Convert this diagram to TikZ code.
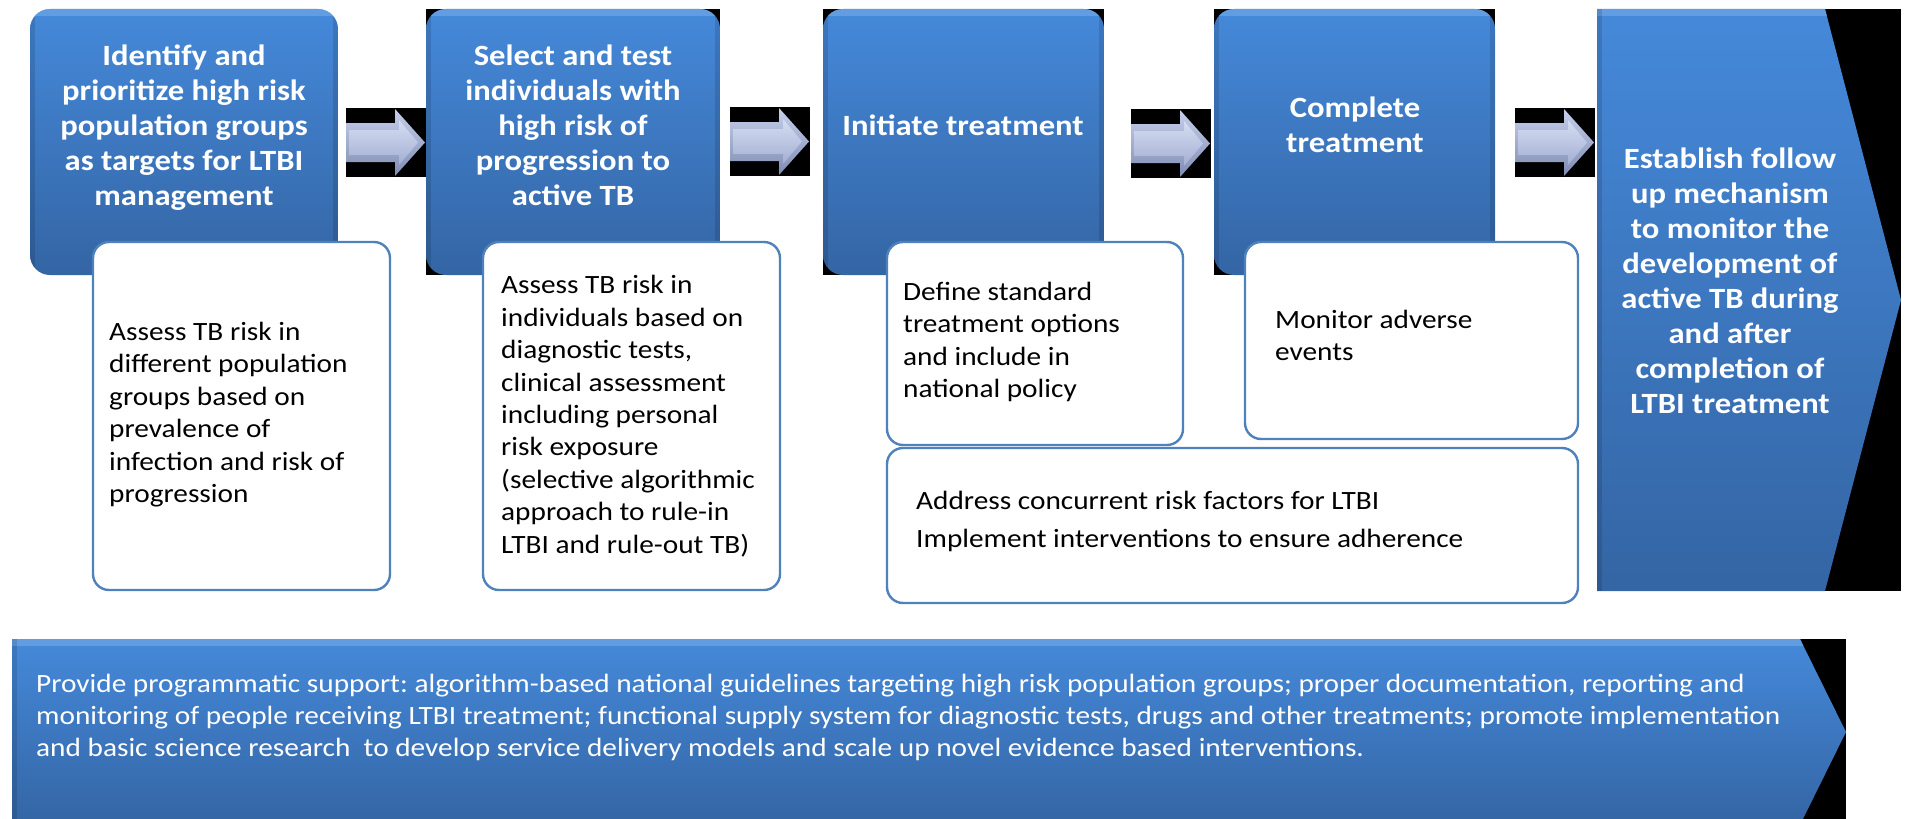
\documentclass[tikz,border=0pt]{standalone}
\usepackage{fontspec}
\setmainfont{Carlito}[FakeStretch=1.11]
\frenchspacing
\definecolor{bluetop}{HTML}{4589DA}
\definecolor{bluemid}{HTML}{3E7AC6}
\definecolor{bluebot}{HTML}{3465A4}
\definecolor{bluehi}{HTML}{6FA6E6}
\definecolor{boxline}{HTML}{4F81BD}
\definecolor{arrtop}{HTML}{C6D0EC}
\definecolor{arrbot}{HTML}{7F8CB3}
\definecolor{arrintop}{HTML}{D6DDF2}
\definecolor{arrinbot}{HTML}{A3AFD2}
\tikzset{
  bluefill/.style={top color=bluetop, middle color=bluemid, bottom color=bluebot},
  whitebox/.style={draw=boxline, line width=2.4bp, fill=white, rounded corners=16bp},
  headtxt/.style={text=white, font=\bfseries\fontsize{29.5}{35}\selectfont, align=center, inner sep=0pt},
  bodytxt/.style={text=black, font=\fontsize{26.5}{32.5}\selectfont, align=left, inner sep=0pt},
  bantxt/.style={text=white, font=\fontsize{26.5}{32}\selectfont, align=left, inner sep=0pt},
}
\newcommand\mybluebox[5]{% x0 y0 x1 y1 blackcorners
  \ifnum#5=1 \fill[black] (#1,#2) rectangle (#3,#4);\fi
  \begin{scope}
    \path[clip, rounded corners=20bp] (#1,#2) rectangle (#3,#4);
    \path[bluefill] (#1,#2) rectangle (#3,#4);
    \fill[bluehi, opacity=0.7] (#1,#2) rectangle (#3,#2+7);
    \fill[black, opacity=0.12] (#1,#2) rectangle (#1+5,#4);
    \fill[black, opacity=0.12] (#3-5,#2) rectangle (#3,#4);
  \end{scope}}
\newcommand\myblockarrow[2]{% x0 y0 of black rect
  \fill[black] (#1,#2) rectangle (#1+80,#2+69);
  \path[top color=arrtop, bottom color=arrbot]
    (#1,#2+15) -- (#1+49,#2+15) -- (#1+49,#2+1) -- (#1+79,#2+34.5)
    -- (#1+49,#2+68) -- (#1+49,#2+54) -- (#1,#2+54) -- cycle;
  \path[top color=arrintop, bottom color=arrinbot]
    (#1+3,#2+22) -- (#1+53,#2+22) -- (#1+53,#2+12) -- (#1+72,#2+34.5)
    -- (#1+53,#2+57) -- (#1+53,#2+47) -- (#1+3,#2+47) -- cycle;}
\begin{document}
\begin{tikzpicture}[x=1bp,y=-1bp]
\useasboundingbox (0,0) rectangle (1907,819);
\clip (0,0) rectangle (1907,819);

% blue step boxes
\mybluebox{30}{9}{338}{275}{0}
\mybluebox{426}{9}{720}{275}{1}
\mybluebox{823}{9}{1104}{275}{1}
\mybluebox{1214}{9}{1495}{275}{1}

% final pentagon
\fill[black] (1597,9) rectangle (1901,591);
\begin{scope}
  \path[clip] (1597,9) -- (1825,9) -- (1901,300) -- (1825,591) -- (1597,591) -- cycle;
  \path[bluefill] (1597,9) rectangle (1901,591);
  \fill[bluehi, opacity=0.7] (1597,9) rectangle (1901,16);
  \fill[black, opacity=0.12] (1597,9) rectangle (1602,591);
\end{scope}

% block arrows
\myblockarrow{346}{108}
\myblockarrow{730}{107}
\myblockarrow{1131}{109}
\myblockarrow{1515}{108}

% bottom banner
\fill[black] (12,639) rectangle (1846,819);
\begin{scope}
  \path[clip] (12,639) -- (1800,639) -- (1846,732) -- (1800,825) -- (12,825) -- cycle;
  \path[bluefill] (12,639) rectangle (1846,825);
  \fill[bluehi, opacity=0.7] (12,639) rectangle (1846,646);
  \fill[black, opacity=0.12] (12,639) rectangle (17,825);
\end{scope}

% white boxes
\path[whitebox] (93,242) rectangle (390,590);
\path[whitebox] (483,242) rectangle (780,590);
\path[whitebox] (887,242) rectangle (1183,445);
\path[whitebox] (1245,242) rectangle (1578,439);
\path[whitebox] (887,448) rectangle (1578,603);

% header texts (anchor = baseline of last line)
\node[headtxt, anchor=base] (h1) at (184,205) {Identify and\\prioritize high risk\\population groups\\as targets for LTBI\\management};
\node[headtxt, anchor=base] (h2) at (573,205) {Select and test\\individuals with\\high risk of\\progression to\\active TB};
\node[headtxt, anchor=base] (h3) at (963,135) {Initiate treatment};
\node[headtxt, anchor=base] (h4) at (1355,152) {Complete\\treatment};
\node[headtxt, anchor=base] (h5) at (1730,413) {Establish follow\\up mechanism\\to monitor the\\development of\\active TB during\\and after\\completion of\\LTBI treatment};

% body texts
\node[bodytxt, anchor=base west] (w1) at (109,502.5) {Assess TB risk in\\different population\\groups based on\\prevalence of\\infection and risk of\\progression};
\node[bodytxt, anchor=base west] (w2) at (501,553) {Assess TB risk in\\individuals based on\\diagnostic tests,\\clinical assessment\\including personal\\risk exposure\\(selective algorithmic\\approach to rule-in\\LTBI and rule-out TB)};
\node[bodytxt, anchor=base west] (w3) at (903,397.5) {Define standard\\treatment options\\and include in\\national policy};
\node[bodytxt, anchor=base west] (w4) at (1275,360.5) {Monitor adverse\\events};
\node[bodytxt, anchor=base west] (w5) at (916,547) {Address concurrent risk factors for LTBI\\[5.5bp]Implement interventions to ensure adherence};

% banner text
\node[bantxt, anchor=base west] (bt) at (36,756) {Provide programmatic support: algorithm-based national guidelines targeting high risk population groups; proper documentation, reporting and\\monitoring of people receiving LTBI treatment; functional supply system for diagnostic tests, drugs and other treatments; promote implementation\\and basic science research\ \ to develop service delivery models and scale up novel evidence based interventions.};
\end{tikzpicture}
\end{document}
